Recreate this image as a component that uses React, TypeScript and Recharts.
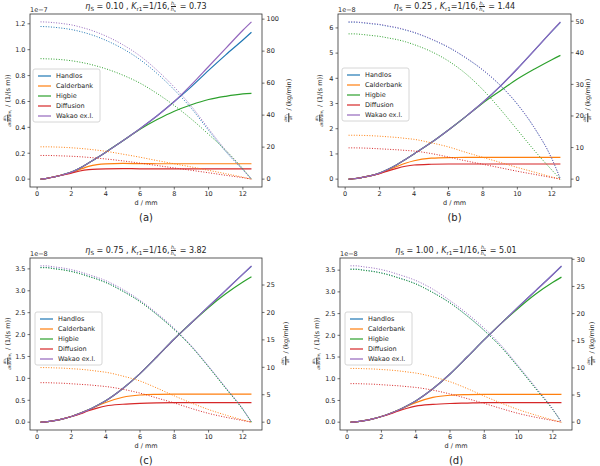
import React from 'react';
import { ComposedChart, Line, XAxis, YAxis } from 'recharts';

// bubble diameter d / mm (sample positions)
const D = [0.2, 0.5, 1, 1.5, 2, 2.5, 3, 3.5, 4, 5, 6, 7, 8, 9, 10, 11, 12, 12.5];
const X_TICKS = [0, 2, 4, 6, 8, 10, 12];
const NAMES = ['Handlos', 'Calderbank', 'Higbie', 'Diffusion', 'Wakao ex.l.'];
const COLORS = ['#1f77b4', '#ff7f0e', '#2ca02c', '#d62728', '#9467bd'];

// ---------- panel (a): eta_S = 0.10, left in 1e-7, right kg/min ----------
const aHandlos = [0, 0.004, 0.018, 0.034, 0.054, 0.085, 0.125, 0.165, 0.208, 0.297, 0.39, 0.49, 0.6, 0.715, 0.84, 0.96, 1.075, 1.135];
const aCalder = [0, 0.004, 0.018, 0.034, 0.052, 0.075, 0.098, 0.112, 0.118, 0.121, 0.12, 0.119, 0.119, 0.119, 0.119, 0.119, 0.119, 0.119];
const aHigbie = [0, 0.004, 0.018, 0.034, 0.054, 0.085, 0.125, 0.165, 0.208, 0.297, 0.385, 0.46, 0.525, 0.575, 0.615, 0.64, 0.658, 0.663];
const aDiff = [0, 0.004, 0.018, 0.033, 0.047, 0.063, 0.073, 0.078, 0.08, 0.081, 0.08, 0.08, 0.08, 0.08, 0.08, 0.08, 0.08, 0.08];
const aWakao = [0, 0.004, 0.018, 0.034, 0.054, 0.085, 0.125, 0.165, 0.208, 0.297, 0.39, 0.49, 0.6, 0.73, 0.87, 1.01, 1.15, 1.215];
const aHandlosR = [95.4, 95.3, 94.9, 94.3, 93.5, 92.3, 90.8, 89, 86.8, 81.5, 74.7, 66, 55.8, 44.2, 30.5, 17.2, 5.8, 0];
const aCalderR = [20.2, 20.2, 20.1, 19.9, 19.6, 19.2, 18.7, 18.1, 17.4, 15.6, 13.7, 11.6, 9.6, 7.6, 5.5, 3.4, 1.2, 0];
const aHigbieR = [75.3, 75.2, 75, 74.6, 74, 73.1, 72, 70.6, 69, 65, 60, 53.5, 46, 37.5, 28, 18, 6.5, 0];
const aDiffR = [14.8, 14.8, 14.7, 14.5, 14.3, 14, 13.6, 13.1, 12.6, 11.4, 10, 8.5, 7, 5.5, 4, 2.4, 0.9, 0];
const aWakaoR = [98.3, 98.2, 97.8, 97.2, 96.4, 95.1, 93.6, 91.7, 89.5, 84, 77, 68, 57.5, 45.5, 31.5, 18, 6, 0];
const A_LT = [0, 0.2, 0.4, 0.6, 0.8, 1.0, 1.2];
const A_RT = [0, 20, 40, 60, 80, 100];

// ---------- panel (b): eta_S = 0.25, left in 1e-8 ----------
const bHandlos = [0, 0.015, 0.07, 0.14, 0.24, 0.39, 0.57, 0.78, 1.0, 1.45, 1.95, 2.48, 3.05, 3.68, 4.38, 5.12, 5.86, 6.22];
const bCalder = [0, 0.015, 0.07, 0.14, 0.23, 0.36, 0.5, 0.63, 0.73, 0.83, 0.855, 0.86, 0.86, 0.86, 0.86, 0.86, 0.86, 0.86];
const bHigbie = [0, 0.015, 0.07, 0.14, 0.24, 0.39, 0.57, 0.78, 1.0, 1.45, 1.95, 2.48, 3.02, 3.5, 3.97, 4.37, 4.74, 4.91];
const bDiff = [0, 0.015, 0.07, 0.14, 0.22, 0.33, 0.43, 0.51, 0.56, 0.59, 0.6, 0.6, 0.6, 0.6, 0.6, 0.6, 0.6, 0.6];
const bWakao = [0, 0.015, 0.07, 0.14, 0.24, 0.39, 0.57, 0.78, 1.0, 1.45, 1.95, 2.48, 3.05, 3.68, 4.38, 5.12, 5.87, 6.24];
const bHandlosR = [49.7, 49.7, 49.5, 49.2, 48.9, 48.4, 47.9, 47.2, 46.4, 44.3, 41.7, 38.4, 34.5, 29.7, 23.7, 16.1, 6.5, 0];
const bCalderR = [13.9, 13.9, 13.85, 13.75, 13.6, 13.4, 13.2, 12.9, 12.6, 11.5, 10.2, 8.5, 6.9, 5.3, 3.7, 2.2, 0.7, 0];
const bHigbieR = [46, 46, 45.8, 45.5, 45.2, 44.7, 44.2, 43.5, 42.6, 40.4, 37.4, 33.4, 28.3, 22.2, 15.6, 9, 2.9, 0];
const bDiffR = [9.9, 9.9, 9.85, 9.75, 9.6, 9.45, 9.3, 9.1, 8.9, 8.1, 7, 5.8, 4.7, 3.6, 2.5, 1.5, 0.5, 0];
const bWakaoR = [49.8, 49.8, 49.6, 49.3, 49, 48.5, 48, 47.3, 46.5, 44.4, 41.8, 38.5, 34.6, 29.8, 23.8, 16.2, 6.5, 0];
const B_LT = [0, 1, 2, 3, 4, 5, 6];
const B_RT = [0, 10, 20, 30, 40, 50];

// ---------- panel (c): eta_S = 0.75, left in 1e-8 ----------
const cHandlos = [0, 0.008, 0.035, 0.075, 0.13, 0.2, 0.28, 0.38, 0.49, 0.77, 1.11, 1.5, 1.9, 2.27, 2.64, 3.01, 3.38, 3.56];
const cCalder = [0, 0.008, 0.035, 0.075, 0.13, 0.2, 0.28, 0.37, 0.45, 0.57, 0.62, 0.635, 0.64, 0.64, 0.64, 0.64, 0.64, 0.64];
const cHigbie = [0, 0.008, 0.035, 0.075, 0.13, 0.2, 0.28, 0.38, 0.49, 0.77, 1.11, 1.5, 1.9, 2.27, 2.62, 2.93, 3.2, 3.32];
const cDiff = [0, 0.008, 0.035, 0.075, 0.13, 0.19, 0.26, 0.32, 0.37, 0.41, 0.43, 0.44, 0.445, 0.445, 0.445, 0.445, 0.445, 0.445];
const cWakao = [0, 0.008, 0.035, 0.075, 0.13, 0.2, 0.28, 0.38, 0.49, 0.77, 1.11, 1.5, 1.9, 2.27, 2.64, 3.01, 3.38, 3.57];
const cHandlosR = [28.2, 28.2, 28.0, 27.8, 27.5, 27.1, 26.6, 26.1, 25.5, 23.9, 22.0, 19.6, 16.9, 13.8, 10.1, 6.2, 2.3, 0];
const cCalderR = [9.95, 9.95, 9.9, 9.85, 9.75, 9.65, 9.5, 9.3, 9.1, 8.4, 7.5, 6.2, 4.8, 3.5, 2.3, 1.3, 0.4, 0];
const cHigbieR = [28.15, 28.15, 27.95, 27.75, 27.45, 27.05, 26.55, 26.05, 25.45, 23.85, 21.95, 19.55, 16.85, 13.75, 10.05, 6.15, 2.3, 0];
const cDiffR = [7.2, 7.2, 7.15, 7.1, 7.0, 6.9, 6.8, 6.65, 6.5, 6.0, 5.3, 4.4, 3.5, 2.5, 1.6, 0.9, 0.3, 0];
const cWakaoR = [28.5, 28.5, 28.3, 28.1, 27.8, 27.4, 26.9, 26.4, 25.8, 24.2, 22.2, 19.8, 17.1, 13.9, 10.2, 6.3, 2.4, 0];
const C_LT = [0, 0.5, 1.0, 1.5, 2.0, 2.5, 3.0, 3.5];
const C_RT = [0, 5, 10, 15, 20, 25];

// ---------- panel (d): eta_S = 1.00, left in 1e-8 ----------
const dHandlos = [0, 0.008, 0.035, 0.075, 0.13, 0.2, 0.28, 0.38, 0.49, 0.77, 1.11, 1.5, 1.9, 2.28, 2.66, 3.03, 3.4, 3.59];
const dCalder = [0, 0.008, 0.035, 0.075, 0.13, 0.2, 0.28, 0.37, 0.45, 0.57, 0.62, 0.635, 0.64, 0.64, 0.64, 0.64, 0.64, 0.64];
const dHigbie = [0, 0.008, 0.035, 0.075, 0.13, 0.2, 0.28, 0.38, 0.49, 0.77, 1.11, 1.5, 1.9, 2.28, 2.63, 2.95, 3.22, 3.34];
const dDiff = [0, 0.008, 0.035, 0.075, 0.13, 0.19, 0.26, 0.32, 0.37, 0.41, 0.43, 0.44, 0.45, 0.45, 0.45, 0.45, 0.45, 0.45];
const dWakao = [0, 0.008, 0.035, 0.075, 0.13, 0.2, 0.28, 0.38, 0.49, 0.77, 1.11, 1.5, 1.9, 2.28, 2.66, 3.03, 3.4, 3.6];
const dHandlosR = [28.2, 28.2, 28.0, 27.8, 27.5, 27.1, 26.6, 26.1, 25.5, 23.9, 22.0, 19.6, 16.9, 13.8, 10.1, 6.2, 2.3, 0];
const dCalderR = [9.9, 9.9, 9.85, 9.8, 9.7, 9.6, 9.45, 9.25, 9.05, 8.35, 7.45, 6.2, 4.8, 3.5, 2.3, 1.3, 0.4, 0];
const dHigbieR = [28.15, 28.15, 27.95, 27.75, 27.45, 27.05, 26.55, 26.05, 25.45, 23.85, 21.95, 19.55, 16.85, 13.75, 10.05, 6.15, 2.3, 0];
const dDiffR = [7.1, 7.1, 7.05, 7.0, 6.9, 6.8, 6.7, 6.55, 6.4, 5.9, 5.2, 4.35, 3.45, 2.5, 1.6, 0.9, 0.3, 0];
const dWakaoR = [28.8, 28.8, 28.6, 28.4, 28.1, 27.7, 27.2, 26.7, 26.1, 24.5, 22.4, 20, 17.3, 14.1, 10.3, 6.4, 2.4, 0];
const D_LT = [0, 0.5, 1.0, 1.5, 2.0, 2.5, 3.0, 3.5];
const D_RT = [0, 5, 10, 15, 20, 25, 30];

const FONT = "'DejaVu Sans', sans-serif";
const TXT = '#262626';
const YW = 28;
const XH = 22;
const MT = 6;

function padDomain(series: number[][]): [number, number] {
  let lo = Infinity;
  let hi = -Infinity;
  series.forEach((s) => s.forEach((v) => { if (v < lo) lo = v; if (v > hi) hi = v; }));
  const m = 0.05 * (hi - lo);
  return [lo - m, hi + m];
}
const XD = padDomain([D]);

type PanelCfg = {
  tag: string; eta: string; hr: string; exp: string;
  solid: number[][]; dotted: number[][];
  lt: number[]; rt: number[]; dec: number;
  L: number; R: number; T: number; B: number;
  yl: number; yr: number; lg: [number, number];
};

const PANELS: PanelCfg[] = [
  { tag: '(a)', eta: '0.10', hr: '0.73', exp: '1e\u22127', solid: [aHandlos, aCalder, aHigbie, aDiff, aWakao], dotted: [aHandlosR, aCalderR, aHigbieR, aDiffR, aWakaoR], lt: A_LT, rt: A_RT, dec: 1, L: 30, R: 262, T: 14, B: 187, yl: 8, yr: 289, lg: [33, 69] },
  { tag: '(b)', eta: '0.25', hr: '1.44', exp: '1e\u22128', solid: [bHandlos, bCalder, bHigbie, bDiff, bWakao], dotted: [bHandlosR, bCalderR, bHigbieR, bDiffR, bWakaoR], lt: B_LT, rt: B_RT, dec: 0, L: 338, R: 571, T: 14, B: 187, yl: 320, yr: 588, lg: [342, 68] },
  { tag: '(c)', eta: '0.75', hr: '3.82', exp: '1e\u22128', solid: [cHandlos, cCalder, cHigbie, cDiff, cWakao], dotted: [cHandlosR, cCalderR, cHigbieR, cDiffR, cWakaoR], lt: C_LT, rt: C_RT, dec: 1, L: 30, R: 262, T: 258, B: 430, yl: 8, yr: 286, lg: [35, 312] },
  { tag: '(d)', eta: '1.00', hr: '5.01', exp: '1e\u22128', solid: [dHandlos, dCalder, dHigbie, dDiff, dWakao], dotted: [dHandlosR, dCalderR, dHigbieR, dDiffR, dWakaoR], lt: D_LT, rt: D_RT, dec: 1, L: 340, R: 572, T: 258, B: 430, yl: 317, yr: 592, lg: [345, 312] },
];

const Sub = ({ c }: { c: string }) => (
  <sub style={{ fontSize: '0.7em', verticalAlign: '-0.3em', lineHeight: 0 }}>{c}</sub>
);

const Frac = ({ n, d }: { n: React.ReactNode; d: React.ReactNode }) => (
  <span style={{ display: 'inline-flex', flexDirection: 'column', alignItems: 'center', verticalAlign: 'middle', fontSize: '0.62em', lineHeight: 1.05, margin: '0 1px' }}>
    <span style={{ borderBottom: `0.6px solid ${TXT}`, padding: '0 0.5px' }}>{n}</span>
    <span>{d}</span>
  </span>
);

function ChartPanel({ p }: { p: PanelCfg }) {
  const rows = D.map((x, i) => {
    const r: Record<string, number> = { x };
    p.solid.forEach((s, k) => { r['s' + k] = s[i]; });
    p.dotted.forEach((s, k) => { r['d' + k] = s[i]; });
    return r;
  });
  const ld = padDomain(p.solid);
  const rd = padDomain(p.dotted);
  const tick = { fontSize: 6.5, fill: TXT, fontFamily: FONT };
  const tl = { stroke: '#333', strokeWidth: 0.7 };
  return (
    <div style={{ position: 'absolute', left: p.L - YW, top: p.T - MT }}>
      <ComposedChart width={p.R - p.L + 2 * YW} height={p.B - p.T + XH + MT} data={rows} margin={{ top: MT, right: 0, bottom: 0, left: 0 }}>
        <XAxis dataKey="x" type="number" domain={XD} ticks={X_TICKS} interval={0} allowDataOverflow axisLine={false} tickLine={tl} tickSize={2.5} tickMargin={1.5} tick={tick} height={XH} />
        <YAxis yAxisId="l" type="number" domain={ld} ticks={p.lt} interval={0} allowDataOverflow axisLine={false} tickLine={tl} tickSize={2.5} tickMargin={2} tick={tick} width={YW} tickFormatter={(v: number) => v.toFixed(p.dec)} />
        <YAxis yAxisId="r" orientation="right" type="number" domain={rd} ticks={p.rt} interval={0} allowDataOverflow axisLine={false} tickLine={tl} tickSize={2.5} tickMargin={2} tick={tick} width={YW} />
        {NAMES.map((n, k) => (
          <Line key={'s' + k} yAxisId="l" dataKey={'s' + k} name={n} type="monotone" stroke={COLORS[k]} strokeWidth={1.2} dot={false} activeDot={false} isAnimationActive={false} />
        ))}
        {NAMES.map((n, k) => (
          <Line key={'d' + k} yAxisId="r" dataKey={'d' + k} name={n + ' rate'} type="monotone" stroke={COLORS[k]} strokeWidth={1} strokeDasharray="1 1.6" dot={false} activeDot={false} isAnimationActive={false} />
        ))}
      </ComposedChart>
    </div>
  );
}

function Texts({ p }: { p: PanelCfg }) {
  const cx = (p.L + p.R) / 2;
  const cy = (p.T + p.B) / 2;
  const rot: React.CSSProperties = { position: 'absolute', transform: 'translate(-50%, -50%) rotate(-90deg)', whiteSpace: 'nowrap', fontSize: 6.5, color: TXT, lineHeight: 1 };
  return (
    <>
      <div style={{ position: 'absolute', left: p.L, width: p.R - p.L, top: p.T - 14, height: 13, display: 'flex', alignItems: 'center', justifyContent: 'center', fontSize: 8, color: TXT, whiteSpace: 'nowrap' }}>
        <span><i>η</i><Sub c="S" /> = {p.eta} , <i>K</i><Sub c="r1" />=1/16, </span>
        <Frac n={<><i>h</i><Sub c="r" /></>} d={<><i>h</i><Sub c="s" /></>} />
        <span>&nbsp;= {p.hr}</span>
      </div>
      <div style={{ ...rot, left: p.yl, top: cy }}>
        <Frac n={<><i>dn</i><Sub c="l" /></>} d={<><i>dtdVdm</i><Sub c="l" /></>} /> / (1/(s m))
      </div>
      <div style={{ ...rot, left: p.yr, top: cy }}>
        <Frac n={<><i>dm</i><Sub c="r" /></>} d={<i>dt</i>} /> / (kg/min)
      </div>
      <div style={{ position: 'absolute', left: cx - 40, width: 80, top: p.B + 12, textAlign: 'center', fontSize: 6.5, color: TXT }}>d / mm</div>
      <div style={{ position: 'absolute', left: cx - 40, width: 80, top: p.B + 25, textAlign: 'center', fontSize: 10, color: TXT }}>{p.tag}</div>
    </>
  );
}

function Decor({ p }: { p: PanelCfg }) {
  const [lx, ly] = p.lg;
  return (
    <g>
      <rect x={p.L} y={p.T} width={p.R - p.L} height={p.B - p.T} fill="none" stroke="#333" strokeWidth={0.8} />
      <text x={p.L} y={p.T - 2.5} fontSize={6.5} fill={TXT} fontFamily={FONT}>{p.exp}</text>
      <rect x={lx} y={ly} width={67} height={53} rx={2} fill="#fff" fillOpacity={0.8} stroke="#ccc" strokeWidth={0.8} />
      {NAMES.map((n, k) => (
        <g key={n}>
          <line x1={lx + 5} x2={lx + 18} y1={ly + 7 + k * 10} y2={ly + 7 + k * 10} stroke={COLORS[k]} strokeWidth={1.2} />
          <text x={lx + 23} y={ly + 7 + k * 10} dy="0.35em" fontSize={6.5} fill={TXT} fontFamily={FONT}>{n}</text>
        </g>
      ))}
    </g>
  );
}

export default function App() {
  return (
    <div style={{ position: 'absolute', left: 0, top: 0, width: 600, height: 466, background: '#fff', fontFamily: FONT, overflow: 'hidden' }}>
      {PANELS.map((p) => <ChartPanel key={p.tag} p={p} />)}
      <svg width={600} height={466} style={{ position: 'absolute', left: 0, top: 0, pointerEvents: 'none' }}>
        {PANELS.map((p) => <Decor key={p.tag} p={p} />)}
      </svg>
      {PANELS.map((p) => <Texts key={p.tag} p={p} />)}
    </div>
  );
}
